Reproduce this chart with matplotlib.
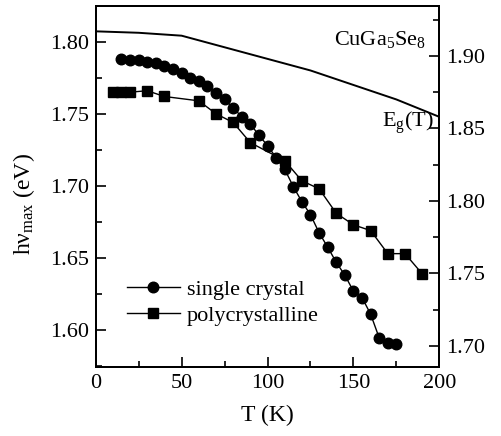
import matplotlib
matplotlib.use('Agg')
import matplotlib.pyplot as plt
from matplotlib.ticker import MultipleLocator, FormatStrFormatter

plt.rcParams['font.family'] = ['Liberation Serif', 'DejaVu Serif']
plt.rcParams['mathtext.fontset'] = 'custom'
plt.rcParams['mathtext.rm'] = 'Liberation Serif'
plt.rcParams['mathtext.it'] = 'Liberation Serif:italic'

# --- data: PL peak energy vs temperature ---
T_single = [15, 20, 25, 30, 35, 40, 45, 50, 55, 60, 65, 70, 75, 80, 85, 90, 95,
            100, 105, 110, 115, 120, 125, 130, 135, 140, 145, 150, 155, 160,
            165, 170, 175]
E_single = [1.788, 1.7875, 1.787, 1.786, 1.785, 1.783, 1.781, 1.778, 1.775,
            1.7725, 1.769, 1.7645, 1.760, 1.754, 1.748, 1.743, 1.735, 1.728,
            1.7195, 1.7115, 1.6995, 1.689, 1.680, 1.6675, 1.6575, 1.647,
            1.638, 1.627, 1.6225, 1.611, 1.5945, 1.591, 1.590]

T_poly = [10, 15, 20, 30, 40, 60, 70, 80, 90, 110, 120, 130, 140, 150, 160,
          170, 180, 190]
E_poly = [1.765, 1.765, 1.765, 1.766, 1.762, 1.759, 1.750, 1.744, 1.730,
          1.7175, 1.7035, 1.698, 1.681, 1.673, 1.669, 1.653, 1.653, 1.639]

# band gap Eg(T), right axis
T_gap = [0, 25, 50, 75, 100, 125, 150, 175, 200]
E_gap = [1.917, 1.916, 1.914, 1.906, 1.898, 1.890, 1.880, 1.870, 1.858]

fig = plt.figure(figsize=(5.01, 4.36), dpi=100)
ax = fig.add_axes([0.191, 0.159, 0.686, 0.828])
ax2 = ax.twinx()

ax.plot(T_single, E_single, '-o', color='black', lw=1.0, ms=7.6,
        label='single crystal')
ax.plot(T_poly, E_poly, '-s', color='black', lw=1.0, ms=6.5,
        label='polycrystalline')
ax2.plot(T_gap, E_gap, '-', color='black', lw=1.4)

ax.set_xlim(0, 200)
ax.set_ylim(1.5746, 1.825)
ax2.set_ylim(1.6857, 1.9347)

ax.xaxis.set_major_locator(MultipleLocator(50))
ax.xaxis.set_minor_locator(MultipleLocator(25))
ax.yaxis.set_major_locator(MultipleLocator(0.05))
ax.yaxis.set_minor_locator(MultipleLocator(0.025))
ax2.yaxis.set_major_locator(MultipleLocator(0.05))
ax2.yaxis.set_minor_locator(MultipleLocator(0.025))
ax.yaxis.set_major_formatter(FormatStrFormatter('%.2f'))
ax2.yaxis.set_major_formatter(FormatStrFormatter('%.2f'))

for a in (ax, ax2):
    for s in a.spines.values():
        s.set_linewidth(1.4)
    a.tick_params(which='both', direction='in', labelsize=16, width=1.2,
                  pad=5, labelfontfamily='Liberation Serif')
    a.tick_params(which='major', length=7)
    a.tick_params(which='minor', length=4.5)
ax.tick_params(which='both', top=False, right=False)

ax.set_xlabel('T (K)', fontsize=17, labelpad=9)
ax.set_ylabel('hν$_{\\mathrm{max}}$ (eV)', fontsize=17)
ax.yaxis.set_label_coords(-0.17, 0.45)

ax.text(0.694, 0.905, 'CuGa$_5$Se$_8$', transform=ax.transAxes,
        fontsize=16, ha='left', va='center')
ax.text(0.834, 0.675, 'E$_\\mathrm{g}$(T)', transform=ax.transAxes,
        fontsize=16, ha='left', va='center')

ax.legend(loc='center left', bbox_to_anchor=(0.09, 0.178), frameon=False,
          fontsize=16, handlelength=2.4, handletextpad=0.3, borderpad=0,
          borderaxespad=0, labelspacing=0.25)

fig.savefig('out.png', dpi=100, facecolor='white')
